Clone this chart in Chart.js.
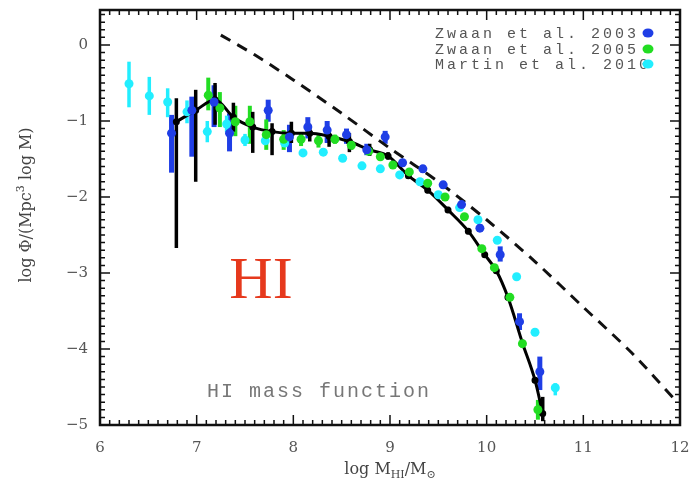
<!DOCTYPE html>
<html>
<head>
<meta charset="utf-8">
<script src="https://cdn.jsdelivr.net/npm/chart.js@4.4.1/dist/chart.umd.min.js"></script>
<style>
  html, body { margin: 0; padding: 0; background: #fff; overflow: hidden; }
</style>
</head>
<body>
<canvas id="massfunc" width="695" height="486"></canvas>
<script>
"use strict"

// axis ticks
const xTicks = [6, 7, 8, 9, 10, 11, 12]
const yTicks = [0, -1, -2, -3, -4, -5]

// Zwaan et al. 2003 (blue)
const z03X  = [6.74, 6.95, 7.18, 7.34, 7.74, 7.96, 8.15, 8.35, 8.55, 8.76, 8.95, 9.13, 9.34, 9.55, 9.74, 9.93, 10.14, 10.34, 10.55]
const z03Y  = [-1.16, -0.86, -0.75, -1.16, -0.86, -1.21, -1.08, -1.12, -1.18, -1.38, -1.21, -1.55, -1.63, -1.84, -2.10, -2.41, -2.76, -3.64, -4.30]
const z03Lo = [-1.68, -1.47, -1.08, -1.40, -1.01, -1.41, -1.23, -1.29, -1.30, -1.45, -1.30, -1.60, -1.68, -1.89, -2.15, -2.46, -2.85, -3.75, -4.54]
const z03Hi = [-0.92, -0.68, -0.53, -0.90, -0.72, -1.05, -0.95, -1.00, -1.10, -1.30, -1.13, -1.50, -1.58, -1.79, -2.05, -2.36, -2.65, -3.53, -4.10]

// Zwaan et al. 2005 (green)
const z05X  = [7.12, 7.24, 7.40, 7.55, 7.72, 7.90, 8.08, 8.26, 8.43, 8.60, 8.78, 8.90, 9.03, 9.20, 9.39, 9.57, 9.77, 9.95, 10.08, 10.24, 10.37, 10.53]
const z05Y  = [-0.66, -0.83, -1.01, -1.01, -1.18, -1.24, -1.24, -1.26, -1.24, -1.32, -1.40, -1.47, -1.58, -1.67, -1.82, -2.00, -2.26, -2.68, -2.93, -3.32, -3.93, -4.80]
const z05Lo = [-0.86, -1.08, -1.20, -1.30, -1.38, -1.38, -1.33, -1.35, -1.30, -1.38, -1.45, -1.52, -1.62, -1.71, -1.86, -2.04, -2.30, -2.72, -2.97, -3.37, -3.98, -4.93]
const z05Hi = [-0.43, -0.62, -0.80, -0.80, -0.98, -1.12, -1.15, -1.18, -1.18, -1.26, -1.35, -1.42, -1.54, -1.63, -1.78, -1.96, -2.22, -2.64, -2.89, -3.27, -3.88, -4.67]

// Martin et al. 2010 (cyan)
const m10X  = [6.30, 6.51, 6.70, 6.90, 7.11, 7.31, 7.50, 7.71, 7.91, 8.10, 8.31, 8.51, 8.71, 8.90, 9.10, 9.31, 9.50, 9.72, 9.91, 10.11, 10.31, 10.50, 10.71]
const m10Y  = [-0.51, -0.67, -0.75, -0.88, -1.14, -1.04, -1.25, -1.26, -1.29, -1.42, -1.41, -1.49, -1.59, -1.63, -1.71, -1.80, -1.97, -2.14, -2.30, -2.57, -3.05, -3.78, -4.51]
const m10Lo = [-0.82, -0.92, -0.95, -1.03, -1.28, -1.15, -1.33, -1.31, -1.34, -1.47, -1.46, -1.54, -1.63, -1.67, -1.75, -1.84, -2.01, -2.18, -2.34, -2.61, -3.09, -3.82, -4.61]
const m10Hi = [-0.22, -0.42, -0.57, -0.73, -1.00, -0.93, -1.17, -1.21, -1.24, -1.37, -1.36, -1.44, -1.55, -1.59, -1.67, -1.76, -1.93, -2.10, -2.26, -2.53, -3.01, -3.74, -4.45]

// fit (black line with error bars)
const fitX  = [6.79, 6.99, 7.19, 7.38, 7.58, 7.78, 7.98, 8.17, 8.37, 8.58, 8.79, 8.98, 9.19, 9.39, 9.60, 9.81, 9.98, 10.10, 10.22, 10.37, 10.50, 10.58]
const fitY  = [-1.01, -0.86, -0.72, -0.95, -1.08, -1.14, -1.16, -1.16, -1.20, -1.27, -1.38, -1.46, -1.72, -1.91, -2.17, -2.45, -2.76, -2.97, -3.32, -3.92, -4.41, -4.85]
const fitLo = [-2.67, -1.80, -1.05, -1.14, -1.42, -1.45, -1.29, -1.27, -1.34, -1.41, -1.46, -1.51, -1.76, -1.95, -2.21, -2.49, -2.80, -3.01, -3.36, -3.96, -4.45, -4.95]
const fitHi = [-0.70, -0.59, -0.50, -0.76, -0.88, -1.03, -1.01, -1.05, -1.12, -1.16, -1.30, -1.41, -1.68, -1.87, -2.13, -2.41, -2.72, -2.93, -3.28, -3.88, -4.37, -4.63]

// model (dashed line)
const modelX = [7.25, 7.6, 8.0, 8.5, 9.0, 9.5, 10.0, 10.5, 11.0, 11.5, 11.95]
const modelY = [0.13, -0.13, -0.46, -0.90, -1.36, -1.80, -2.30, -2.85, -3.45, -4.05, -4.67]

const legendNames = ["Zwaan et al. 2003", "Zwaan et al. 2005", "Martin et al. 2010"]
const colors = ['#1f3ee6', '#22dd22', '#22eeff']

function toPoints(xs, ys) {
    return xs.map((x, i) => ({x: x, y: ys[i]}))
}

// ritar felstaplar från lo/hi-listorna med diagrammets skalor
const errorBars = {
    id: 'errorBars',
    beforeDatasetsDraw(chart) {
        const c = chart.ctx
        const xs = chart.scales.x
        const ys = chart.scales.y
        chart.data.datasets.forEach(ds => {
            if (!ds.errLo) return
            c.save()
            c.strokeStyle = ds.barColor
            c.lineWidth = ds.barWidth
            ds.data.forEach((p, i) => {
                const px = xs.getPixelForValue(p.x)
                c.beginPath()
                c.moveTo(px, ys.getPixelForValue(ds.errLo[i]))
                c.lineTo(px, ys.getPixelForValue(ds.errHi[i]))
                c.stroke()
            })
            c.restore()
        })
    }
}

// ram med små tickmarkeringar inåt på alla sidor
const frame = {
    id: 'frame',
    afterDraw(chart) {
        const c = chart.ctx
        const a = chart.chartArea
        const xs = chart.scales.x
        const ys = chart.scales.y
        c.save()
        c.strokeStyle = '#111'
        c.lineWidth = 1.5
        for (let v = 60; v <= 120; v++) {
            const px = xs.getPixelForValue(v / 10)
            const len = v % 10 === 0 ? 10 : 5
            c.beginPath()
            c.moveTo(px, a.bottom); c.lineTo(px, a.bottom - len)
            c.moveTo(px, a.top); c.lineTo(px, a.top + len)
            c.stroke()
        }
        for (let v = -50; v <= 4; v++) {
            const py = ys.getPixelForValue(v / 10)
            const len = v % 10 === 0 ? 10 : 5
            c.beginPath()
            c.moveTo(a.left, py); c.lineTo(a.left + len, py)
            c.moveTo(a.right, py); c.lineTo(a.right - len, py)
            c.stroke()
        }
        c.lineWidth = 2.5
        c.strokeRect(a.left, a.top, a.right - a.left, a.bottom - a.top)
        c.restore()
    }
}

// skriver text i delar (för upphöjt/nedsänkt)
function richText(c, parts, x, y) {
    let w = 0
    parts.forEach(p => { c.font = p.font; w += c.measureText(p.t).width })
    let cx = x - w / 2
    parts.forEach(p => {
        c.font = p.font
        c.fillText(p.t, cx, y + (p.dy || 0))
        cx += c.measureText(p.t).width
    })
}

const labels = {
    id: 'labels',
    afterDraw(chart) {
        const c = chart.ctx
        c.save()
        c.textBaseline = 'alphabetic'

        // HI
        c.fillStyle = '#e6391d'
        c.font = "60px 'Liberation Serif'"
        c.textAlign = 'center'
        c.fillText('HI', 261, 298)

        c.textAlign = 'left'
        c.fillStyle = '#777'
        c.font = "20px 'Liberation Mono'"
        c.letterSpacing = '2px'
        c.fillText('HI mass function', 207, 397)

        // legend
        c.font = "15px 'Liberation Mono'"
        c.letterSpacing = '3px'
        c.fillStyle = '#555'
        const rows = [38, 54, 69]
        legendNames.forEach((name, i) => {
            c.fillText(name, 435, rows[i])
            c.fillStyle = colors[i]
            c.beginPath()
            c.ellipse(648, rows[i] - 5, 5.5, 4.5, 0, 0, Math.PI * 2)
            c.fill()
            c.fillStyle = '#555'
        })
        c.letterSpacing = '0px'

        // axeltitlar
        c.fillStyle = '#444'
        const big = "16px 'DejaVu Serif'"
        const small = "11px 'DejaVu Serif'"
        richText(c, [
            {t: 'log M', font: big},
            {t: 'HI', font: small, dy: 4},
            {t: '/M', font: big},
            {t: '\u2299', font: small, dy: 4}
        ], 390, 474)

        c.translate(31, 205)
        c.rotate(-Math.PI / 2)
        richText(c, [
            {t: 'log \u03A6/(Mpc', font: big},
            {t: '3', font: small, dy: -7},
            {t: ' log M)', font: big}
        ], 0, 0)
        c.restore()
    }
}

const ctx = document.getElementById('massfunc').getContext('2d')

new Chart(ctx, {
    type: 'scatter',
    data: {
        datasets: [
            {
                label: legendNames[0],
                data: toPoints(z03X, z03Y),
                errLo: z03Lo, errHi: z03Hi, barColor: colors[0], barWidth: 5,
                backgroundColor: colors[0], borderWidth: 0, pointRadius: 4.5
            },
            {
                label: legendNames[1],
                data: toPoints(z05X, z05Y),
                errLo: z05Lo, errHi: z05Hi, barColor: colors[1], barWidth: 4,
                backgroundColor: colors[1], borderWidth: 0, pointRadius: 4.5
            },
            {
                label: legendNames[2],
                data: toPoints(m10X, m10Y),
                errLo: m10Lo, errHi: m10Hi, barColor: colors[2], barWidth: 3.5,
                backgroundColor: colors[2], borderWidth: 0, pointRadius: 4.5
            },
            {
                label: 'fit',
                data: toPoints(fitX, fitY),
                errLo: fitLo, errHi: fitHi, barColor: '#000', barWidth: 3.5,
                showLine: true, borderColor: '#000', borderWidth: 3,
                cubicInterpolationMode: 'monotone',
                pointRadius: 2, backgroundColor: '#000'
            },
            {
                label: 'model',
                data: toPoints(modelX, modelY),
                showLine: true, borderColor: '#111', borderWidth: 3,
                borderDash: [11, 8], tension: 0.3, pointRadius: 0
            }
        ]
    },
    options: {
        responsive: false,
        animation: false,
        layout: { padding: { top: 10, right: 15, left: 0, bottom: 0 } },
        plugins: { legend: { display: false }, tooltip: { enabled: false } },
        scales: {
            x: {
                type: 'linear', min: 6, max: 12,
                afterBuildTicks: s => { s.ticks = xTicks.map(v => ({value: v})) },
                afterFit: s => { s.height = 61; s.paddingLeft = 0; s.paddingRight = 0 },
                grid: { display: false, drawTicks: false },
                border: { display: false },
                ticks: { color: '#555', padding: 14, font: { family: 'DejaVu Serif', size: 15 } }
            },
            y: {
                type: 'linear', min: -5, max: 0.46,
                afterBuildTicks: s => { s.ticks = yTicks.map(v => ({value: v})) },
                afterFit: s => { s.width = 100; s.paddingTop = 0; s.paddingBottom = 0 },
                grid: { display: false, drawTicks: false },
                border: { display: false },
                ticks: {
                    color: '#555', padding: 12, font: { family: 'DejaVu Serif', size: 15 },
                    callback: v => v < 0 ? '\u2212' + Math.abs(v) : String(v)
                }
            }
        }
    },
    plugins: [errorBars, frame, labels]
})
</script>
</body>
</html>
